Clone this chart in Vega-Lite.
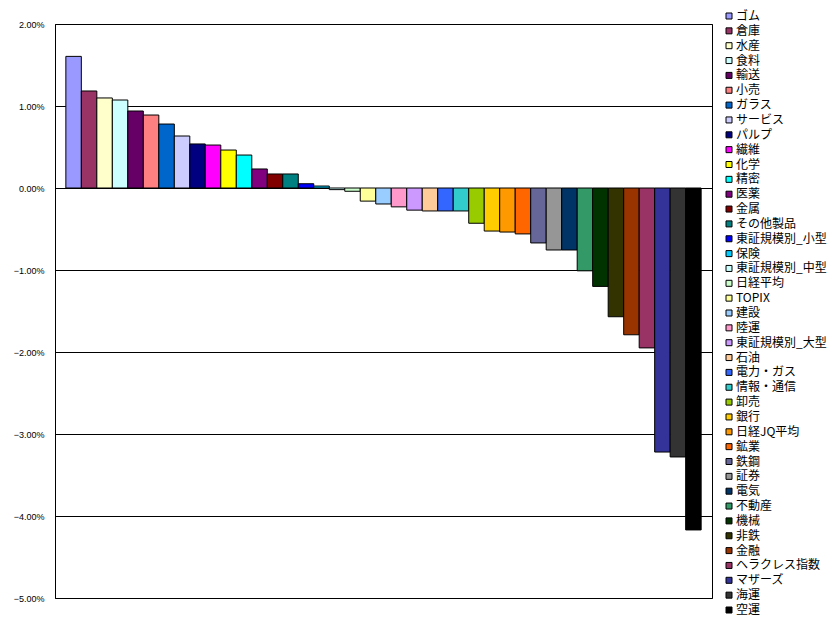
{
  "$schema": "https://vega.github.io/schema/vega-lite/v6.json",
  "autosize": "none",
  "width": 657,
  "height": 574,
  "padding": {"left": 55, "top": 24, "right": 124, "bottom": 37},
  "background": "white",
  "config": {"view": {"stroke": "black", "strokeWidth": 1}},
  "data": {"values": [
    {"name": "ゴム", "value": 0.01605},
    {"name": "倉庫", "value": 0.01183},
    {"name": "水産", "value": 0.01098},
    {"name": "食料", "value": 0.01073},
    {"name": "輸送", "value": 0.00939},
    {"name": "小売", "value": 0.0089},
    {"name": "ガラス", "value": 0.0078},
    {"name": "サービス", "value": 0.00634},
    {"name": "パルプ", "value": 0.00537},
    {"name": "繊維", "value": 0.00524},
    {"name": "化学", "value": 0.00463},
    {"name": "精密", "value": 0.00402},
    {"name": "医薬", "value": 0.00232},
    {"name": "金属", "value": 0.00171},
    {"name": "その他製品", "value": 0.00171},
    {"name": "東証規模別_小型", "value": 0.00052},
    {"name": "保険", "value": 0.00024},
    {"name": "東証規模別_中型", "value": -0.0002},
    {"name": "日経平均", "value": -0.0004},
    {"name": "TOPIX", "value": -0.0016},
    {"name": "建設", "value": -0.00195},
    {"name": "陸運", "value": -0.0023},
    {"name": "東証規模別_大型", "value": -0.0027},
    {"name": "石油", "value": -0.0028},
    {"name": "電力・ガス", "value": -0.0028},
    {"name": "情報・通信", "value": -0.0028},
    {"name": "卸売", "value": -0.0043},
    {"name": "銀行", "value": -0.00525},
    {"name": "日経JQ平均", "value": -0.00537},
    {"name": "鉱業", "value": -0.0056},
    {"name": "鉄鋼", "value": -0.0067},
    {"name": "証券", "value": -0.00756},
    {"name": "電気", "value": -0.00756},
    {"name": "不動産", "value": -0.0101},
    {"name": "機械", "value": -0.012},
    {"name": "非鉄", "value": -0.0157},
    {"name": "金融", "value": -0.0179},
    {"name": "ヘラクレス指数", "value": -0.0195},
    {"name": "マザーズ", "value": -0.0322},
    {"name": "海運", "value": -0.0328},
    {"name": "空運", "value": -0.0417}
  ]},
  "mark": {"type": "bar", "stroke": "black", "strokeWidth": 1, "opacity": 1},
  "encoding": {
    "x": {
      "field": "name", "type": "nominal", "sort": null,
      "scale": {"paddingInner": 0, "paddingOuter": 0.7},
      "axis": null
    },
    "y": {
      "field": "value", "type": "quantitative",
      "scale": {"domain": [-0.05, 0.02], "nice": false, "zero": false},
      "axis": {
        "values": [-0.05, -0.04, -0.03, -0.02, -0.01, 0, 0.01, 0.02],
        "format": ".2%",
        "title": null,
        "grid": true, "gridColor": "black", "gridOpacity": 1, "gridWidth": 1,
        "ticks": false, "tickSize": 0,
        "domain": true, "domainColor": "black",
        "labelFont": "Liberation Sans", "labelFontSize": 9, "labelColor": "black",
        "labelPadding": 11
      }
    },
    "color": {
      "field": "name", "type": "nominal", "sort": null,
      "scale": {
        "domain": ["ゴム","倉庫","水産","食料","輸送","小売","ガラス","サービス","パルプ","繊維","化学","精密","医薬","金属","その他製品","東証規模別_小型","保険","東証規模別_中型","日経平均","TOPIX","建設","陸運","東証規模別_大型","石油","電力・ガス","情報・通信","卸売","銀行","日経JQ平均","鉱業","鉄鋼","証券","電気","不動産","機械","非鉄","金融","ヘラクレス指数","マザーズ","海運","空運"],
        "range": ["#9999FF","#993366","#FFFFCC","#CCFFFF","#660066","#FF8080","#0066CC","#CCCCFF","#000080","#FF00FF","#FFFF00","#00FFFF","#800080","#800000","#008080","#0000FF","#00CCFF","#CCFFFF","#CCFFCC","#FFFF99","#99CCFF","#FF99CC","#CC99FF","#FFCC99","#3366FF","#33CCCC","#99CC00","#FFCC00","#FF9900","#FF6600","#666699","#969696","#003366","#339966","#003300","#333300","#993300","#993366","#333399","#333333","#000000"]
      },
      "legend": {
        "title": null,
        "orient": "none",
        "legendX": 668,
        "legendY": -14,
        "symbolType": "square",
        "symbolSize": 36,
        "symbolStrokeColor": "black",
        "symbolStrokeWidth": 1,
        "symbolOpacity": 1,
        "symbolLimit": 60,
        "labelFont": "Noto Sans CJK JP",
        "labelFontSize": 12,
        "labelColor": "black",
        "labelOffset": 1,
        "rowPadding": 2.85,
        "padding": 0
      }
    }
  }
}
